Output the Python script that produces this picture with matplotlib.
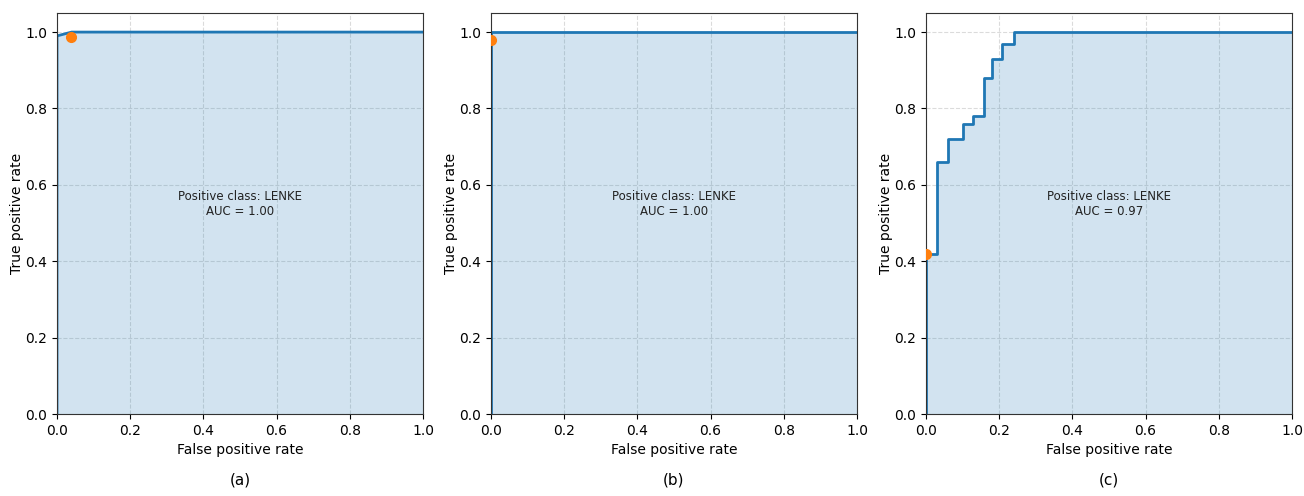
import matplotlib
matplotlib.use("Agg")
import matplotlib.pyplot as plt
import numpy as np

# ROC curve corners
fpr_a = [0.0, 0.0, 0.04, 1.0]
tpr_a = [0.0, 0.99, 1.0, 1.0]
fpr_b = [0.0, 0.0, 1.0]
tpr_b = [0.0, 1.0, 1.0]
fpr_c = [0.0, 0.0, 0.03, 0.03, 0.061, 0.061, 0.10, 0.10, 0.129, 0.129,
         0.159, 0.159, 0.18, 0.18, 0.209, 0.209, 0.241, 0.241, 1.0]
tpr_c = [0.0, 0.42, 0.42, 0.66, 0.66, 0.72, 0.72, 0.76, 0.76, 0.78,
         0.78, 0.88, 0.88, 0.93, 0.93, 0.97, 0.97, 1.0, 1.0]

# operating points (orange dots)
op_points = [(0.038, 0.988), (0.0, 0.98), (0.0, 0.42)]
aucs = [1.00, 1.00, 0.97]
labels = ["(a)", "(b)", "(c)"]
curves = [(fpr_a, tpr_a), (fpr_b, tpr_b), (fpr_c, tpr_c)]

fig = plt.figure(figsize=(13.04, 4.96), dpi=100)
lefts = [0.0437, 0.3765, 0.7101]
w, h, b = 0.2807, 0.8085, 0.1653

for i in range(3):
    ax = fig.add_axes([lefts[i], b, w, h])
    fpr, tpr = curves[i]
    ax.fill_between(fpr, tpr, 0, color="C0", alpha=0.2, linewidth=0)
    ax.plot(fpr, tpr, color="C0", lw=2)
    ax.plot(op_points[i][0], op_points[i][1], "o", color="C1", ms=7, zorder=3)
    ax.set_xlim(0, 1)
    ax.set_ylim(0, 1.05)
    ax.set_xticks(np.arange(0, 1.01, 0.2))
    ax.set_yticks(np.arange(0, 1.01, 0.2))
    ax.grid(True, ls="--", color="#cccccc", alpha=0.7)
    ax.set_axisbelow(True)
    ax.set_xlabel("False positive rate", fontsize=10)
    ax.set_ylabel("True positive rate", fontsize=10, labelpad=1)
    ax.tick_params(labelsize=10)
    for s in ax.spines.values():
        s.set_color("#333333")
    ax.text(0.5, 0.55, "Positive class: LENKE\nAUC = %.2f" % aucs[i],
            ha="center", va="center", fontsize=8.5, color="#222222")
    fig.text(lefts[i] + w / 2, 0.018, labels[i], ha="center", va="bottom",
             fontsize=11)

fig.savefig("out.png", dpi=100)
